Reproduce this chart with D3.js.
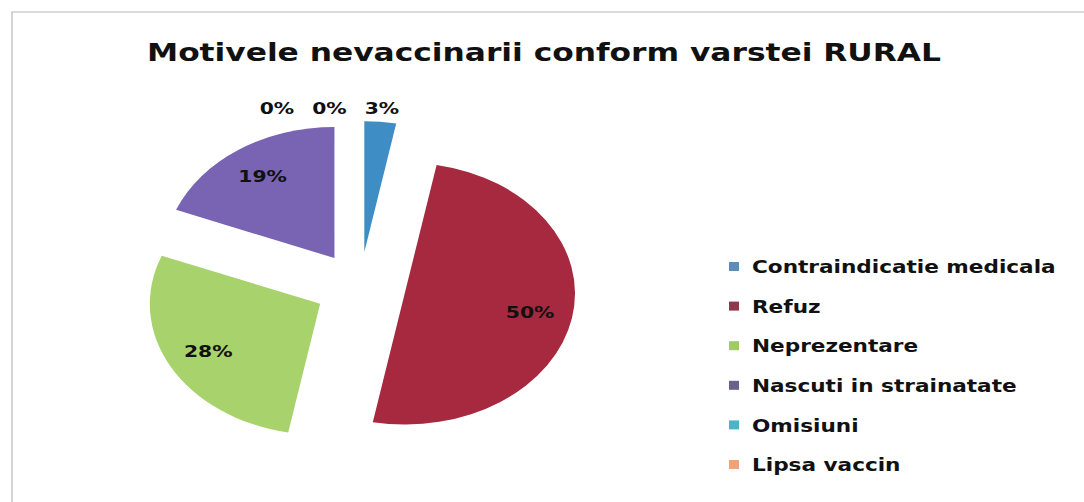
<!DOCTYPE html>
<html>
<head>
<meta charset="utf-8">
<script src="https://cdn.jsdelivr.net/npm/d3@7"></script>
<style>
  body { margin: 0; background: #fff; }
  text { font-family: "DejaVu Sans", Verdana, sans-serif; font-weight: 700; fill: #111; }
</style>
</head>
<body>
<svg id="chart" width="1084" height="502"></svg>
<script>
// values
var categories = ["Contraindicatie medicala", "Refuz", "Neprezentare",
                  "Nascuti in strainatate", "Omisiuni", "Lipsa vaccin"];
var values = [3, 50, 28, 19, 0, 0];
var sliceColors = ["#3e8dc4", "#a6293f", "#a8d26c", "#7963b3", "#4bb3c9", "#f09a62"];
var legendColors = ["#5d8db6", "#8c3a4b", "#9ecb68", "#6c618c", "#4fb3c8", "#eea27a"];
var title = "Motivele nevaccinarii conform varstei RURAL";

var W = 1084, H = 502;
var cx = 360, cy = 287,   // pie centre
    r = 131,              // radius before the horizontal stretch
    k = 1.3,              // the scan is stretched sideways
    ks = 1.27,            // text stretch
    explode = 35;

var svg = d3.select("#chart");

// thin frame, only top and left survive in the scan
svg.append("path")
    .attr("d", "M12," + H + "V12H" + W)
    .attr("fill", "none")
    .attr("stroke", "#b8b8b8")
    .attr("stroke-width", 1.2);

svg.append("text")
    .attr("x", 544)
    .attr("y", 61)
    .attr("text-anchor", "middle")
    .attr("font-size", 24)
    .attr("textLength", 794)
    .attr("lengthAdjust", "spacingAndGlyphs")
    .text(title);

var total = d3.sum(values);
var pct = function(v) { return Math.round(v / total * 100) + "%"; };

var pie = d3.pie()
    .sort(null)
    .value(function(d) { return d; });

var arcpath = d3.arc()
    .innerRadius(0)
    .outerRadius(r);

var arcs = pie(values);
var mid = function(d) { return (d.startAngle + d.endAngle) / 2; };

var pieG = svg.append("g")
    .attr("transform", "translate(" + cx + "," + cy + ") scale(" + k + ",1)");

pieG.selectAll(".pieslice")
    .data(arcs)
    .join("path")
      .classed("pieslice", true)
      .attr("transform", function(d) {
        var a = mid(d);
        return "translate(" + (explode * Math.sin(a)) + "," + (-explode * Math.cos(a)) + ")";
      })
      .attr("d", arcpath)
      .attr("fill", function(d, i) { return sliceColors[i]; });

// screen position along a slice bisector, f = fraction of radius from the slice tip
function labelPos(d, f) {
  var a = mid(d), rr = explode + f * r;
  return [cx + k * rr * Math.sin(a), cy - rr * Math.cos(a)];
}

var placed = [];
arcs.forEach(function(d, i) {
  var inside = (d.endAngle - d.startAngle) > 0.4;
  var p = labelPos(d, inside ? 0.75 : 1.1);
  var t = svg.append("text")
      .attr("text-anchor", "middle")
      .attr("dy", "0.35em")
      .attr("font-size", 16)
      .text(pct(values[i]));
  var w = t.node().getComputedTextLength() * ks;
  if (!inside) {
    // push small-slice labels to the left until they stop overlapping
    placed.forEach(function(q) {
      if (Math.abs(q.y - p[1]) < 16 && Math.abs(q.x - p[0]) < (q.w + w) / 2 + 18) {
        p[0] = q.x - (q.w + w) / 2 - 18;
      }
    });
    placed.push({x: p[0], y: p[1], w: w});
  }
  t.attr("transform", "translate(" + p[0] + "," + p[1] + ") scale(" + ks + ",1)");
});

// legend
var ly = d3.scalePoint()
    .domain(categories)
    .range([267, 465]);

var legend = svg.selectAll(".legend")
    .data(categories)
    .join("g")
      .classed("legend", true)
      .attr("transform", function(d) { return "translate(729," + ly(d) + ")"; });

legend.append("rect")
    .attr("x", 0)
    .attr("y", -5)
    .attr("width", 10)
    .attr("height", 9)
    .attr("fill", function(d, i) { return legendColors[i]; });

legend.append("text")
    .attr("transform", "translate(23,0) scale(" + ks + ",1)")
    .attr("dy", "0.36em")
    .attr("font-size", 17)
    .text(function(d) { return d; });
</script>
</body>
</html>
